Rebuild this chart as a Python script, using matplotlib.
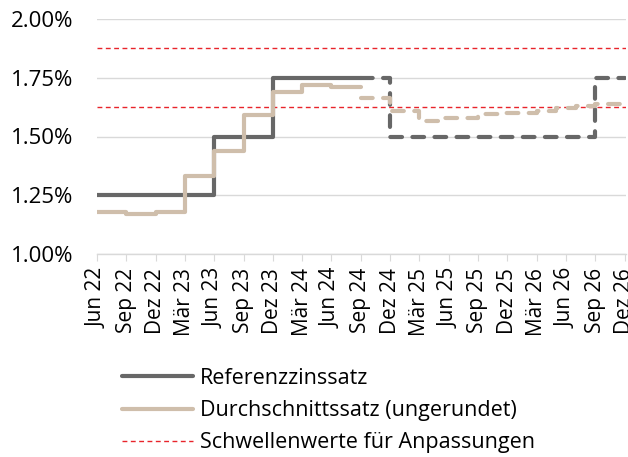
import matplotlib.pyplot as plt
from matplotlib.lines import Line2D

plt.rcParams['font.family'] = ['Open Sans', 'DejaVu Sans']

# quarterly axis labels, data is monthly from Jun 22 to Dez 26
tick_labels = ["Jun 22", "Sep 22", "Dez 22", "Mär 23", "Jun 23", "Sep 23", "Dez 23",
               "Mär 24", "Jun 24", "Sep 24", "Dez 24", "Mär 25", "Jun 25", "Sep 25",
               "Dez 25", "Mär 26", "Jun 26", "Sep 26", "Dez 26"]

# history, months 0..27 (Jun 22 .. Sep 24)
ref_hist = [1.25, 1.25, 1.25, 1.25, 1.25, 1.25, 1.25, 1.25, 1.25, 1.25, 1.25, 1.25,
            1.50, 1.50, 1.50, 1.50, 1.50, 1.50,
            1.75, 1.75, 1.75, 1.75, 1.75, 1.75, 1.75, 1.75, 1.75, 1.75]
avg_hist = [1.18, 1.18, 1.18, 1.17, 1.17, 1.17, 1.18, 1.18, 1.18, 1.33, 1.33, 1.33,
            1.44, 1.44, 1.44, 1.59, 1.59, 1.59, 1.69, 1.69, 1.69, 1.72, 1.72, 1.72,
            1.71, 1.71, 1.71, 1.71]

# forecast, months 27..54 (Sep 24 .. Dez 26)
ref_fc = [1.75, 1.75, 1.75,
          1.50, 1.50, 1.50, 1.50, 1.50, 1.50, 1.50, 1.50, 1.50, 1.50, 1.50,
          1.50, 1.50, 1.50, 1.50, 1.50, 1.50, 1.50, 1.50, 1.50, 1.50,
          1.75, 1.75, 1.75, 1.75]
avg_fc = [1.665, 1.665, 1.665, 1.61, 1.61, 1.61, 1.565, 1.565, 1.58, 1.58, 1.58, 1.58,
          1.595, 1.595, 1.60, 1.60, 1.60, 1.60, 1.61, 1.61, 1.62, 1.62, 1.63, 1.63,
          1.64, 1.64, 1.64, 1.64]

thresholds = [1.875, 1.625]

grey = "#676767"
beige = "#CFBEAB"
red = "#E8242B"

x_hist = list(range(0, len(ref_hist)))
x_fc = list(range(len(ref_hist) - 1, len(ref_hist) - 1 + len(ref_fc)))

fig = plt.figure(figsize=(6.28, 4.57), dpi=100)
ax = fig.add_axes([97 / 628, 1 - 254 / 457, 529 / 628, 235 / 457])

lw = 3.0
for y in thresholds:
    ax.axhline(y, color=red, lw=1.0, dashes=(3.5, 2.5), zorder=2)

ax.plot(x_fc, ref_fc, drawstyle="steps-post", color=grey, lw=lw,
        dashes=(2.8, 2.5), dash_capstyle="round", zorder=3)
ax.plot(x_fc, avg_fc, drawstyle="steps-post", color=beige, lw=lw,
        dashes=(2.8, 2.5), dash_capstyle="round", zorder=3)
ax.plot(x_hist, ref_hist, drawstyle="steps-post", color=grey, lw=lw,
        solid_capstyle="round", zorder=4)
ax.plot(x_hist, avg_hist, drawstyle="steps-post", color=beige, lw=lw,
        solid_capstyle="round", zorder=5)

ax.set_ylim(1.0, 2.0)
ax.set_xlim(0, 54.15)
ax.set_yticks([1.0, 1.25, 1.5, 1.75, 2.0])
ax.set_yticklabels(["1.00%", "1.25%", "1.50%", "1.75%", "2.00%"], fontsize=16)
ax.set_xticks(range(0, 55, 3))
ax.set_xticklabels(tick_labels, rotation=90, fontsize=15)
ax.tick_params(axis="y", length=0, pad=17)
ax.tick_params(axis="x", length=5, color="#D9D9D9", pad=5)
ax.grid(axis="y", color="#D9D9D9", lw=1.0)
ax.set_axisbelow(True)
for s in ["top", "right", "left"]:
    ax.spines[s].set_visible(False)
ax.spines["bottom"].set_color("#D9D9D9")
ax.spines["bottom"].set_linewidth(1.0)

handles = [
    Line2D([], [], color=grey, lw=3.0, solid_capstyle="round"),
    Line2D([], [], color=beige, lw=3.0, solid_capstyle="round"),
    Line2D([], [], color=red, lw=1.0, dashes=(3.5, 2.5)),
]
labels = ["Referenzzinssatz", "Durchschnittssatz (ungerundet)",
          "Schwellenwerte für Anpassungen"]
fig.legend(handles, labels, loc="upper left", bbox_to_anchor=(122 / 628, 1 - 368 / 457),
           frameon=False, fontsize=15.5, handlelength=3.3, handletextpad=0.3,
           labelspacing=0.52, borderpad=0, borderaxespad=0)

fig.savefig("out.png", dpi=100)
